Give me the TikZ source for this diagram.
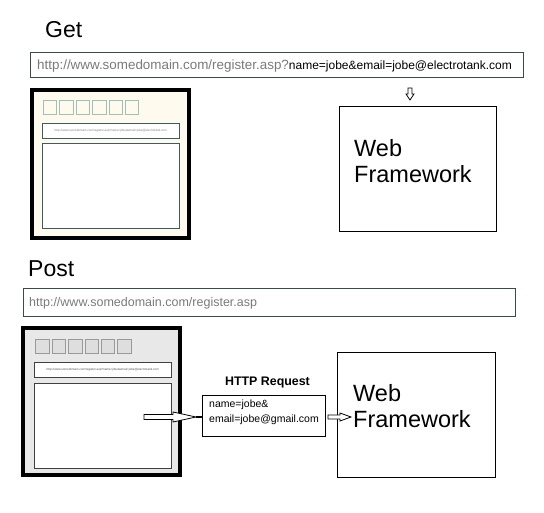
\documentclass[tikz,border=0pt]{standalone}
\usepackage{fontspec}
\setmainfont{Liberation Sans}
\usetikzlibrary{calc}
\definecolor{urlframe}{HTML}{3C4A44}
\definecolor{urlgray}{HTML}{7A7A7A}
\definecolor{cream}{HTML}{FFFAEE}
\definecolor{winframe}{HTML}{3F5A60}
\definecolor{btnteal}{HTML}{A3BDB8}
\definecolor{postfill}{HTML}{E8E8E8}
\begin{document}
\begin{tikzpicture}[x=1pt,y=-1pt,
  rect/.style={draw, inner sep=0pt, outer sep=0pt, anchor=north west},
  urlbar/.style={rect, line width=1pt, draw=urlframe, fill=white},
  browser/.style={rect, line width=4pt, draw=black},
  btn/.style={rect, line width=0.8pt, minimum width=13.5pt, minimum height=14pt},
  addr/.style={rect, line width=1pt, draw=winframe, fill=white, minimum width=137pt, minimum height=15pt},
  pane/.style={rect, line width=1pt, draw=winframe, fill=white, minimum width=137pt, minimum height=85pt},
  tinytext/.style={font=\fontsize{3}{3.5}\selectfont, text=urlgray, inner sep=0pt},
  heading/.style={font=\fontsize{23}{26}\selectfont, inner sep=0pt, anchor=base west},
  fwbox/.style={rect, line width=1pt, draw=black, fill=white},
  fwtext/.style={font=\fontsize{23.5}{26}\selectfont, inner sep=0pt, anchor=north west, align=left},
  hollow/.style={draw=black, line width=0.8pt, fill=white, line join=miter}
]
\useasboundingbox[fill=white] (0,0) rectangle (544,513);

% ---------- GET ----------
\node[heading] (gettitle) at (45,38) {Get};
\node[urlbar, minimum width=493pt, minimum height=25pt] (geturl) at (30,53) {};
\node[anchor=west, inner sep=0pt, font=\fontsize{13.4}{15}\selectfont]
  (geturltext) at (37,66) {\textcolor{urlgray}{http://www.somedomain.com/register.asp?}{\fontsize{12}{15}\selectfont name=jobe\&email=jobe@electrotank.com}};

% browser window (GET)
\node[browser, fill=cream, minimum width=157pt, minimum height=148pt] (getwin) at (32,90) {};
\foreach \i in {0,...,5}
  \node[btn, draw=btnteal, fill=cream] (getbtn\i) at (43.3+16.4*\i,100.5) {};
\node[addr] (getaddr) at (42.3,123.3) {};
\node[tinytext] (getaddrtext) at (getaddr.center)
  {http://www.somedomain.com/register.asp?name=jobe\&email=jobe@electrotank.com};
\node[pane] (getpane) at (42.3,144) {};

% framework (GET)
\node[fwbox, minimum width=157pt, minimum height=125pt] (getfw) at (339,107) {};
\node[fwtext] (getfwtext) at (354,139) {Web\\Framework};

% small down arrow into the framework
\coordinate (dtip) at ($(getfw.north)+(-7.5,-7)$);
\draw[hollow] (dtip) -- ++(-4,-6) -- ++(2,0) -- ++(0,-6) -- ++(4,0) -- ++(0,6) -- ++(2,0) -- cycle;

% ---------- POST ----------
\node[heading] (posttitle) at (28,277) {Post};
\node[urlbar, minimum width=492pt, minimum height=28pt] (posturl) at (23,289) {};
\node[anchor=west, inner sep=0pt, font=\fontsize{12.5}{14}\selectfont, text=urlgray]
  (posturltext) at (29,303) {http://www.somedomain.com/register.asp};

% browser window (POST)
\node[browser, fill=postfill, minimum width=157pt, minimum height=147pt] (postwin) at (23,328) {};
\foreach \i in {0,...,5}
  \node[btn, draw=gray!80, fill=postfill!90!gray] (postbtn\i) at (35.7+16.4*\i,339.3) {};
\node[addr, draw=black!75] (postaddr) at (34.3,362.7) {};
\node[tinytext, text=black!70] (postaddrtext) at (postaddr.center)
  {http://www.somedomain.com/register.asp?name=jobe\&email=jobe@electrotank.com};
\node[pane, draw=black!75] (postpane) at (34.3,383.3) {};

% request body
\node[font=\bfseries\fontsize{12.4}{14}\selectfont, inner sep=0pt, anchor=base] (reqtitle) at (267.5,385) {HTTP Request};
\node[fwbox, minimum width=123pt, minimum height=41pt] (req) at (202,395) {};
\node[anchor=north west, inner sep=0pt, align=left, font=\fontsize{10.5}{15}\selectfont]
  (reqtext) at (209,399.5) {name=jobe\&\\email=jobe@gmail.com};

% framework (POST)
\node[fwbox, minimum width=158pt, minimum height=124pt] (postfw) at (337,353) {};
\node[fwtext] (postfwtext) at (353,384) {Web\\Framework};

% hollow arrow from the page to the request
\coordinate (src) at (144,417);
\coordinate (btip) at (196,417);
\draw[hollow] (btip) -- ++(-23,-5) -- ++(0,2.5) -- (src |- 0,414.5) -- (src |- 0,419.5) -- ++(29,0) -- ++(0,2.5) -- cycle;
\draw[line width=1.5pt] (btip) -- (req.west |- btip);

% hollow arrow from the request to the framework
\coordinate (stip) at ($(postfw.west |- btip)+(14,0)$);
\coordinate (sstart) at ($(req.east |- btip)+(3,0)$);
\draw[hollow] (stip) -- ++(-11,-4) -- ++(0,2) -- (sstart |- 0,415) -- (sstart |- 0,419) -- ($(stip)+(-11,2)$) -- ++(0,2) -- cycle;
\end{tikzpicture}
\end{document}
